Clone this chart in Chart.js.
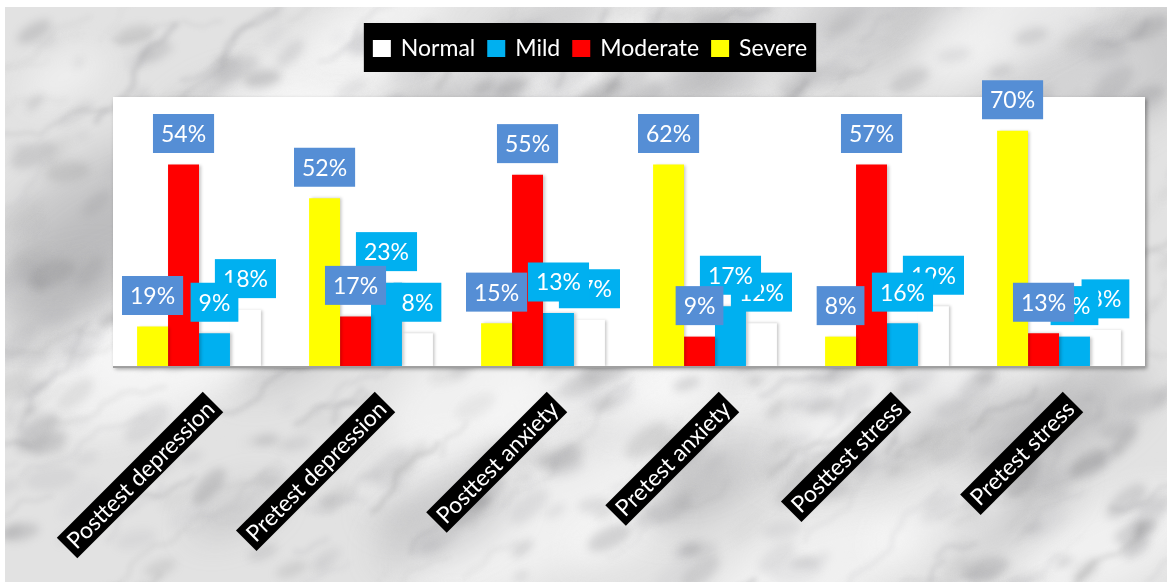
<!DOCTYPE html>
<html>
<head>
<meta charset="utf-8">
<script src="https://cdn.jsdelivr.net/npm/chart.js@4/dist/chart.umd.min.js"></script>
<style>
  html, body { margin: 0; padding: 0; background: #ffffff; }
  body { width: 1167px; height: 582px; position: relative; overflow: hidden; }
  #bg { position: absolute; left: 5px; top: 7px; }
  #c { position: absolute; left: 0; top: 0; }
</style>
</head>
<body>
<canvas id="bg" width="1162" height="575"></canvas>
<canvas id="c" width="1167" height="582"></canvas>
<script>
// ---- data ----
const categories = ['Posttest depression', 'Pretest depression', 'Posttest anxiety', 'Pretest anxiety', 'Posttest stress', 'Pretest stress'];
const seriesNames = ['Severe', 'Moderate', 'Mild', 'Normal'];
const severeValues   = [12, 50, 13, 60, 9, 70];
const moderateValues = [60, 15, 57, 9, 60, 10];
const mildValues     = [10, 25, 16, 18, 13, 9];
const normalValues   = [17, 10, 14, 13, 18, 11];
const severeLabels   = ['19%', '52%', '15%', '62%', '8%', '70%'];
const moderateLabels = ['54%', '17%', '55%', '9%', '57%', '13%'];
const mildLabels     = ['9%', '23%', '13%', '17%', '16%', '9%'];
const normalLabels   = ['18%', '8%', '17%', '12%', '19%', '8%'];

const barColors   = ['#FFFF00', '#FF0000', '#00B0F0', '#FFFFFF'];
const labelFills  = ['#558ED5', '#558ED5', '#00B0F0', '#00B0F0'];
const FONT = 'Lato, "Open Sans", sans-serif';

// ---- marble texture (decorative background only) ----
function drawMarble() {
  const cv = document.getElementById('bg');
  const g = cv.getContext('2d');
  const W = cv.width, H = cv.height;
  const h = n => { const s = Math.sin(n * 12.9898 + 78.233) * 43758.5453; return s - Math.floor(s); };
  g.fillStyle = '#e2e2e2';
  g.fillRect(0, 0, W, H);
  // broad light and dark clouds
  g.filter = 'blur(16px)';
  for (let k = 0; k < 80; k++) {
    const x = h(k * 1.7) * W, y = h(k * 2.9) * H;
    const r = 25 + h(k * 4.1) * 60;
    const light = h(k * 6.3) > 0.4;
    g.fillStyle = light ? 'rgba(250,250,250,0.6)' : 'rgba(160,160,164,0.35)';
    g.beginPath();
    g.ellipse(x, y, r * 1.7, r * 0.7, -0.45, 0, Math.PI * 2);
    g.fill();
  }
  // mottled specks
  g.filter = 'blur(4px)';
  for (let k = 0; k < 500; k++) {
    const x = h(k * 3.3 + 11) * W, y = h(k * 4.7 + 13) * H;
    const r = 3 + h(k * 5.9 + 17) * 12;
    const shade = Math.round(130 + h(k * 7.1 + 19) * 70);
    const a = 0.12 + h(k * 8.3 + 23) * 0.25;
    g.fillStyle = 'rgba(' + shade + ',' + shade + ',' + (shade + 3) + ',' + a.toFixed(3) + ')';
    g.beginPath();
    g.ellipse(x, y, r * 1.8, r * 0.8, -0.5 + (h(k * 9.7) - 0.5) * 0.8, 0, Math.PI * 2);
    g.fill();
  }
  // soft veins
  g.filter = 'blur(2.5px)';
  g.lineCap = 'round';
  for (let k = 0; k < 220; k++) {
    const x0 = h(k * 3.1 + 1) * (W + 200) - 100;
    const y0 = h(k * 5.7 + 2) * (H + 100) - 50;
    const len = 25 + h(k * 7.9 + 3) * 120;
    const ang = -0.55 + (h(k * 9.3 + 4) - 0.5) * 0.9;
    const wdt = 1.5 + h(k * 11.1 + 5) * 5;
    const shade = Math.round(120 + h(k * 13.7 + 6) * 70);
    const alpha = 0.08 + h(k * 15.3 + 7) * 0.18;
    const ph = h(k * 17.9 + 8) * 6.28;
    g.strokeStyle = 'rgba(' + shade + ',' + shade + ',' + (shade + 4) + ',' + alpha.toFixed(3) + ')';
    g.lineWidth = wdt;
    g.beginPath();
    const steps = 12;
    for (let s = 0; s <= steps; s++) {
      const t = s / steps * len;
      const off = Math.sin(t * 0.08 + ph) * 5 + Math.sin(t * 0.23 + ph * 2) * 2;
      const px = x0 + Math.cos(ang) * t - Math.sin(ang) * off;
      const py = y0 + Math.sin(ang) * t + Math.cos(ang) * off;
      if (s === 0) g.moveTo(px, py); else g.lineTo(px, py);
    }
    g.stroke();
  }
  g.filter = 'none';
}

const plotBg = {
  id: 'plotBg',
  beforeDatasetsDraw(chart) {
    const { ctx, chartArea: a } = chart;
    ctx.save();
    ctx.shadowColor = 'rgba(0,0,0,0.35)';
    ctx.shadowBlur = 4;
    ctx.shadowOffsetX = 2;
    ctx.shadowOffsetY = 2;
    ctx.fillStyle = '#ffffff';
    ctx.fillRect(a.left, a.top, a.right - a.left, a.bottom - a.top);
    ctx.restore();
    ctx.save();
    ctx.shadowColor = 'rgba(0,0,0,0.22)';
    ctx.shadowBlur = 3;
    ctx.shadowOffsetX = 2;
    ctx.shadowOffsetY = 0;
  },
  afterDatasetsDraw(chart) {
    const { ctx, chartArea: a } = chart;
    ctx.restore();
    // baseline
    ctx.save();
    ctx.strokeStyle = '#a0a0a0';
    ctx.lineWidth = 2;
    ctx.beginPath();
    ctx.moveTo(a.left, a.bottom);
    ctx.lineTo(a.right, a.bottom);
    ctx.stroke();
    ctx.restore();
    // data labels, last series first
    ctx.save();
    ctx.font = '23px ' + FONT;
    ctx.textAlign = 'center';
    ctx.textBaseline = 'middle';
    for (let d = chart.data.datasets.length - 1; d >= 0; d--) {
      const ds = chart.data.datasets[d];
      const meta = chart.getDatasetMeta(d);
      meta.data.forEach((bar, i) => {
        const txt = ds.valueLabels[i];
        const w = ctx.measureText(txt).width + 16;
        const hh = 39;
        const cx = bar.x;
        const cy = bar.y - 31;
        ctx.fillStyle = labelFills[d];
        ctx.fillRect(cx - w / 2, cy - hh / 2, w, hh);
        ctx.fillStyle = '#ffffff';
        ctx.fillText(txt, cx, cy + 1);
      });
    }
    ctx.restore();
  },
  afterDraw(chart) {
    const { ctx } = chart;
    const xs = chart.scales.x;
    // category labels, rotated, on black backdrops
    ctx.save();
    ctx.font = '23px ' + FONT;
    ctx.textBaseline = 'middle';
    ctx.textAlign = 'right';
    chart.data.labels.forEach((lab, i) => {
      const px = xs.getPixelForValue(i);
      const w = ctx.measureText(lab).width;
      ctx.save();
      ctx.translate(px + 14, 402);
      ctx.rotate(-Math.PI / 4);
      ctx.fillStyle = '#000000';
      ctx.fillRect(-w - 9, -14.5, w + 9, 29);
      ctx.fillStyle = '#ffffff';
      ctx.fillText(lab, -4, 1);
      ctx.restore();
    });
    ctx.restore();
    // legend (reverse order of series)
    ctx.save();
    ctx.font = '23px ' + FONT;
    ctx.textBaseline = 'middle';
    ctx.textAlign = 'left';
    const items = chart.data.datasets.map((ds, d) => ({ label: ds.label, color: barColors[d] })).reverse();
    const box = 18, gap = 10, sep = 12;
    let total = 0;
    items.forEach((it, k) => {
      it.w = ctx.measureText(it.label).width;
      total += box + gap + it.w + (k < items.length - 1 ? sep : 0);
    });
    const padX = 9;
    const bw = total + padX * 2;
    const bx = 590 - bw / 2;
    ctx.fillStyle = '#000000';
    ctx.fillRect(bx, 23, bw, 49);
    let x = bx + padX;
    items.forEach(it => {
      ctx.fillStyle = it.color;
      ctx.fillRect(x, 40, box, 17);
      x += box + gap;
      ctx.fillStyle = '#ffffff';
      ctx.fillText(it.label, x, 49);
      x += it.w + sep;
    });
    ctx.restore();
  }
};

function build() {
  drawMarble();
  new Chart(document.getElementById('c'), {
    type: 'bar',
    data: {
      labels: categories,
      datasets: [
        { label: seriesNames[0], data: severeValues,   backgroundColor: barColors[0], valueLabels: severeLabels },
        { label: seriesNames[1], data: moderateValues, backgroundColor: barColors[1], valueLabels: moderateLabels },
        { label: seriesNames[2], data: mildValues,     backgroundColor: barColors[2], valueLabels: mildLabels },
        { label: seriesNames[3], data: normalValues,   backgroundColor: barColors[3], valueLabels: normalLabels }
      ]
    },
    options: {
      responsive: false,
      animation: false,
      devicePixelRatio: 1,
      layout: { padding: { left: 113, right: 22, top: 97, bottom: 215 } },
      datasets: { bar: { categoryPercentage: 0.72, barPercentage: 1.0, borderWidth: 0 } },
      scales: {
        x: { display: false, offset: true, grid: { display: false } },
        y: { display: false, min: 0, max: 80 }
      },
      plugins: { legend: { display: false }, tooltip: { enabled: false }, title: { display: false } }
    },
    plugins: [plotBg]
  });
}
if (document.fonts && document.fonts.load) {
  document.fonts.load('23px Lato').then(build, build);
} else { build(); }
</script>
</body>
</html>
